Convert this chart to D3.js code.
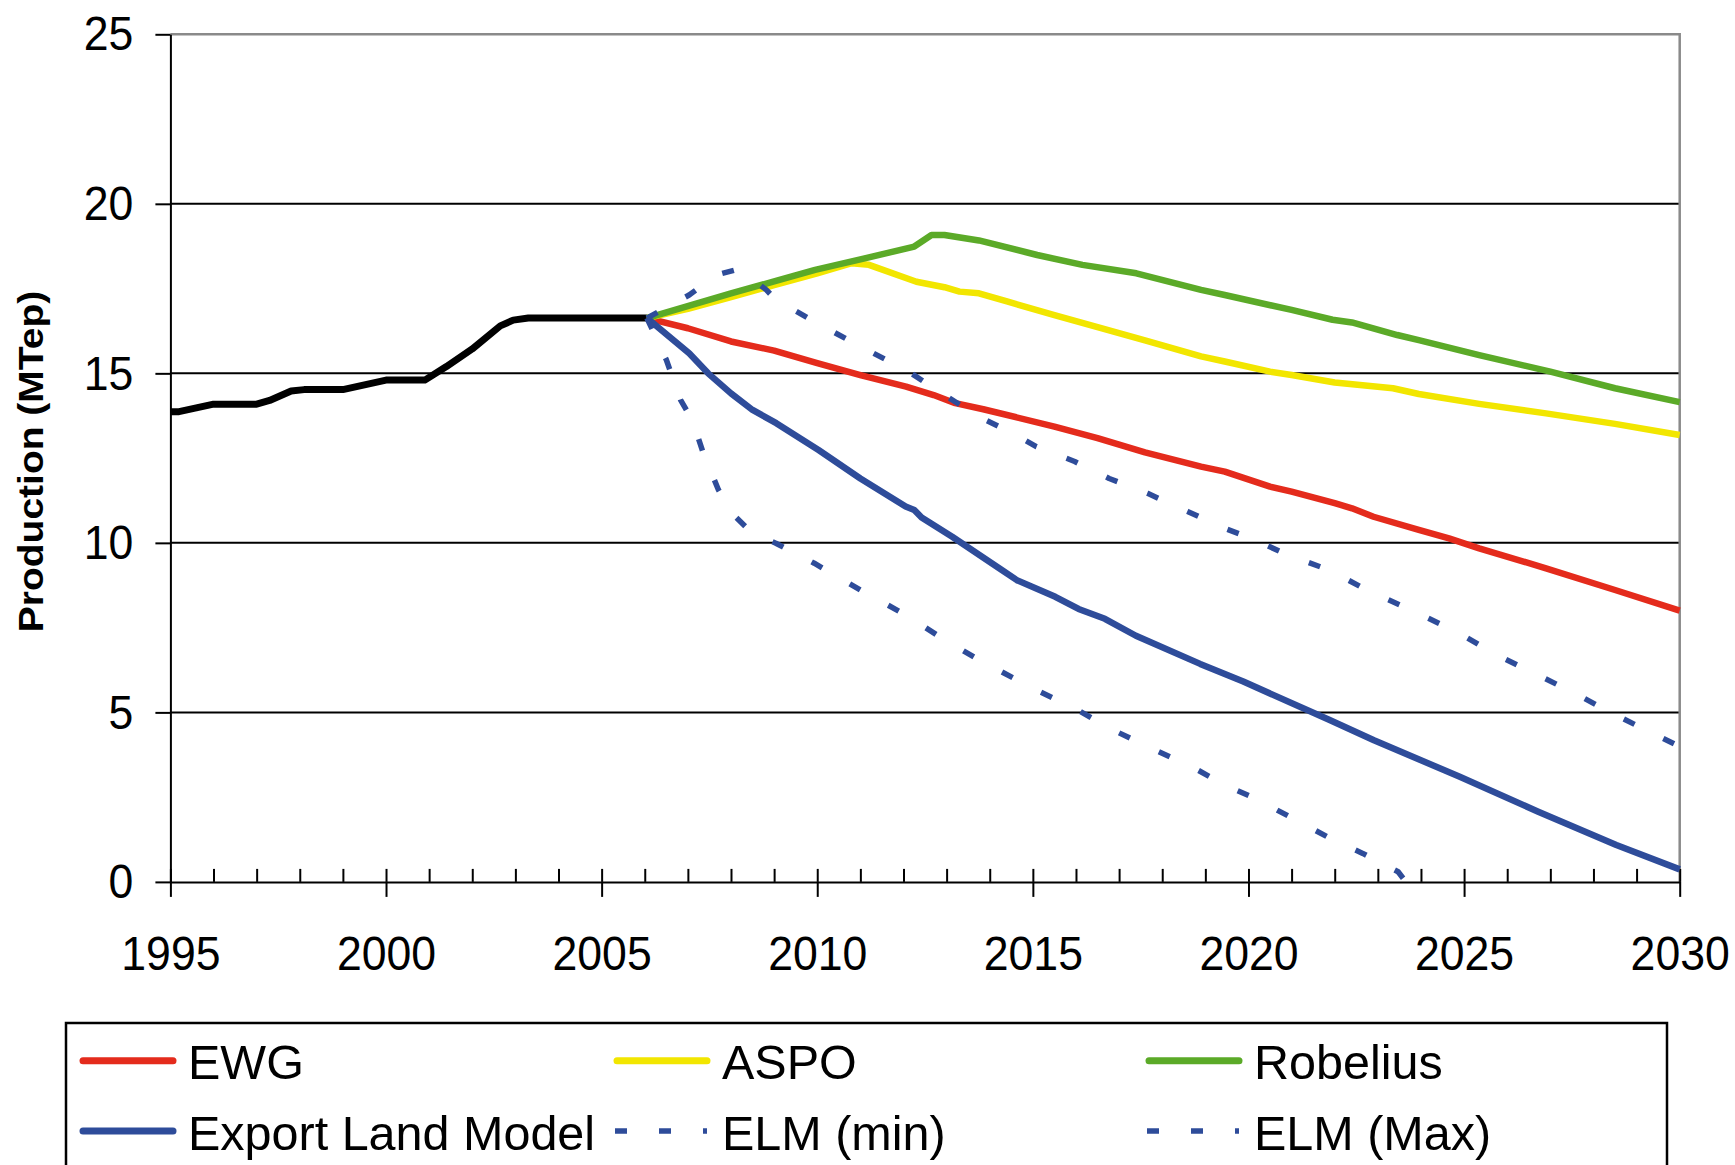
<!DOCTYPE html>
<html>
<head>
<meta charset="utf-8">
<script src="https://cdn.jsdelivr.net/npm/d3@7"></script>
<style>
  html, body { margin: 0; padding: 0; background: #fff; }
  svg { display: block; }
  text { font-family: "Liberation Sans", Arial, sans-serif; fill: #000; }
</style>
</head>
<body>
<svg id="chart" width="1735" height="1165"></svg>
<script>
// ---------- DATA (year, MTep) ----------
const historical = [[1995,13.87],[1995.2,13.87],[1996,14.09],[1997,14.09],[1997.3,14.2],[1997.8,14.48],[1998.1,14.52],[1999,14.52],[2000,14.8],[2000.9,14.8],[2001.4,15.2],[2002,15.72],[2002.65,16.4],[2002.95,16.57],[2003.3,16.63],[2006.05,16.63]];

const ewg = [[2006.05,16.63],[2007,16.33],[2008,15.94],[2009,15.67],[2010,15.3],[2011,14.95],[2012.06,14.61],[2012.7,14.36],[2013.2,14.12],[2013.85,13.94],[2015.5,13.43],[2016.5,13.09],[2017.6,12.67],[2018.9,12.25],[2019.45,12.1],[2020.5,11.66],[2021,11.51],[2022,11.17],[2022.4,11.02],[2022.9,10.77],[2023.95,10.38],[2024.65,10.13],[2025.35,9.84],[2026.9,9.25],[2028.5,8.61],[2030,8.0]];

const aspo = [[2006.05,16.63],[2007,16.9],[2008,17.25],[2009,17.6],[2010,17.95],[2010.8,18.25],[2011.2,18.2],[2012.3,17.7],[2012.95,17.54],[2013.3,17.41],[2013.75,17.36],[2014.4,17.12],[2015.5,16.72],[2016.5,16.36],[2017.6,15.97],[2018.9,15.5],[2019.45,15.35],[2020.5,15.05],[2021,14.95],[2022,14.73],[2023.35,14.56],[2023.95,14.39],[2025.35,14.1],[2026.9,13.82],[2028.5,13.51],[2030,13.18]];

const robelius = [[2006.05,16.63],[2008,17.36],[2009,17.71],[2009.95,18.05],[2011.1,18.39],[2012.25,18.74],[2012.65,19.08],[2012.95,19.08],[2013.75,18.92],[2015.1,18.49],[2016.15,18.2],[2017.4,17.95],[2018.9,17.46],[2019.45,17.31],[2021,16.87],[2021.95,16.58],[2022.4,16.5],[2023.45,16.13],[2023.95,15.98],[2025.35,15.54],[2027,15.05],[2028.5,14.56],[2030,14.15]];

const elm = [[2006.05,16.63],[2007.03,15.59],[2007.47,15.0],[2008,14.41],[2008.5,13.92],[2009.05,13.53],[2010.03,12.74],[2011,11.9],[2012.05,11.07],[2012.25,10.97],[2012.42,10.75],[2013.13,10.18],[2014.28,9.2],[2014.63,8.9],[2015.52,8.41],[2016.06,8.05],[2016.67,7.76],[2017.39,7.26],[2018.88,6.43],[2019.88,5.91],[2021.87,4.78],[2022.39,4.48],[2022.91,4.18],[2024.9,3.1],[2026.72,2.07],[2028.53,1.09],[2030,0.37]];

const elmMin = [[2006.05,16.63],[2006.5,15.4],[2006.83,14.22],[2007.1,13.63],[2007.36,12.64],[2007.71,11.56],[2008.02,10.87],[2008.5,10.28],[2009.04,9.99],[2009.93,9.4],[2011,8.61],[2012.06,7.87],[2012.95,7.14],[2013.75,6.55],[2014.63,5.96],[2015.08,5.66],[2015.97,5.12],[2016.86,4.48],[2017.75,3.94],[2018.68,3.4],[2019.45,2.86],[2020.14,2.47],[2020.96,1.92],[2021.83,1.33],[2022.65,0.84],[2023.47,0.3],[2023.65,0.0]];

const elmMax = [[2006.05,16.63],[2007.03,17.31],[2007.66,17.9],[2008.1,18.05],[2008.37,17.9],[2008.82,17.46],[2009.04,17.17],[2009.93,16.53],[2011,15.79],[2012.06,15.1],[2012.95,14.36],[2013.75,13.72],[2014.46,13.28],[2015.08,12.84],[2015.97,12.4],[2016.77,11.9],[2017.66,11.46],[2018.6,10.92],[2019.45,10.43],[2020.05,10.14],[2020.92,9.64],[2021.87,9.2],[2022.82,8.56],[2023.86,7.97],[2024.9,7.33],[2025.76,6.69],[2026.63,6.15],[2027.5,5.61],[2028.36,5.02],[2029.22,4.48],[2030,3.99]];

const yTicks = [0, 5, 10, 15, 20, 25];
const xMajorTicks = [1995, 2000, 2005, 2010, 2015, 2020, 2025, 2030];
const xMinorTicks = d3.range(1995, 2031);
const yTitle = "Production (MTep)";

const seriesNames = ["EWG", "ASPO", "Robelius", "Export Land Model", "ELM (min)", "ELM (Max)"];
const seriesData = [ewg, aspo, robelius, elm, elmMin, elmMax];
const seriesColors = ["#E42B1C", "#F2E600", "#5BAA28", "#2E4C9A", "#2E4C9A", "#2E4C9A"];
const seriesDashed = [false, false, false, false, true, true];

// ---------- LAYOUT ----------
const svg = d3.select("#chart");
const L = 170.4, R = 1679.7, T = 34.3, B = 881.9;
const x = d3.scaleLinear().domain([1995, 2030]).range([L, R]);
const y = d3.scaleLinear().domain([0, 25]).range([B, T]);

// gridlines
svg.append("g").selectAll("line")
  .data(yTicks.filter(d => d > 0 && d < 25))
  .join("line")
  .attr("x1", L).attr("x2", R)
  .attr("y1", d => y(d)).attr("y2", d => y(d))
  .attr("stroke", "#000").attr("stroke-width", 2);

// plot border (top & right, gray)
svg.append("path")
  .attr("d", `M${L},${y(25)}H${R}V${B}`)
  .attr("fill", "none").attr("stroke", "#8a8a8a").attr("stroke-width", 2.5);

function squeezeText(sel, sx) {
  sel.selectAll("text").each(function() {
    const t = d3.select(this);
    const tx = +t.attr("x") || 0, ty = +t.attr("y") || 0;
    t.attr("x", 0).attr("y", 0)
     .attr("transform", `translate(${tx},${ty}) scale(${sx},1)`);
  });
}

// y axis
const gy = svg.append("g").attr("transform", `translate(${L},0)`)
  .call(d3.axisLeft(y).tickValues(yTicks).tickSize(15).tickSizeOuter(0).tickPadding(22).tickFormat(d3.format("d")));
gy.select(".domain").attr("stroke", "#000").attr("stroke-width", 2);
gy.selectAll(".tick line").attr("stroke", "#000").attr("stroke-width", 2);
gy.selectAll("text").attr("font-size", 49).attr("font-family", "Liberation Sans, Arial, sans-serif");
squeezeText(gy, 0.91);

// x axis minor ticks (inside, upward)
const gxm = svg.append("g").attr("transform", `translate(0,${B})`)
  .call(d3.axisBottom(x).tickValues(xMinorTicks).tickSizeInner(-13).tickSizeOuter(0).tickFormat(""));
gxm.select(".domain").attr("stroke", "#000").attr("stroke-width", 2);
gxm.selectAll(".tick line").attr("stroke", "#000").attr("stroke-width", 2);

// x axis major ticks + labels
const gx = svg.append("g").attr("transform", `translate(0,${B})`)
  .call(d3.axisBottom(x).tickValues(xMajorTicks).tickSize(15).tickSizeOuter(0).tickPadding(38).tickFormat(d3.format("d")));
gx.select(".domain").remove();
gx.selectAll(".tick line").attr("stroke", "#000").attr("stroke-width", 2);
gx.selectAll("text").attr("font-size", 49).attr("font-family", "Liberation Sans, Arial, sans-serif");
squeezeText(gx, 0.91);

// y title
svg.append("text")
  .attr("transform", `translate(43,${(290 + 633) / 2}) rotate(-90) scale(1,0.9)`)
  .attr("text-anchor", "middle")
  .attr("font-size", 39).attr("font-weight", "bold")
  .text(yTitle);

// lines
const line = d3.line().x(d => x(d[0])).y(d => y(d[1]));
const plot = svg.append("g");
plot.append("path").datum(historical)
  .attr("d", line).attr("fill", "none").attr("stroke", "#000")
  .attr("stroke-width", 7).attr("stroke-linejoin", "round");
seriesData.forEach((data, i) => {
  plot.append("path").datum(data)
    .attr("d", line).attr("fill", "none")
    .attr("stroke", seriesColors[i])
    .attr("stroke-width", seriesDashed[i] ? 5.5 : 6.5)
    .attr("stroke-linejoin", "round")
    .attr("stroke-dasharray", seriesDashed[i] ? "12,32" : null);
});

// legend
const legend = svg.append("g");
legend.append("rect")
  .attr("x", 66).attr("y", 1023).attr("width", 1601).attr("height", 200)
  .attr("fill", "#fff").attr("stroke", "#000").attr("stroke-width", 2.5);
const colX = [80, 614, 1146];
const rowY = [1060.7, 1131];
seriesNames.forEach((name, i) => {
  const cx = colX[i % 3], cy = rowY[Math.floor(i / 3)];
  legend.append("line")
    .attr("x1", cx + (seriesDashed[i] ? 1 : 3)).attr("x2", cx + (seriesDashed[i] ? 93 : 93))
    .attr("y1", cy).attr("y2", cy)
    .attr("stroke", seriesColors[i])
    .attr("stroke-width", seriesDashed[i] ? 5.5 : 7)
    .attr("stroke-linecap", seriesDashed[i] ? "butt" : "round")
    .attr("stroke-dasharray", seriesDashed[i] ? "12,32" : null);
  legend.append("text")
    .attr("x", cx + 108).attr("y", cy + 18.5)
    .attr("font-size", 48.5)
    .text(name);
});
</script>
</body>
</html>
